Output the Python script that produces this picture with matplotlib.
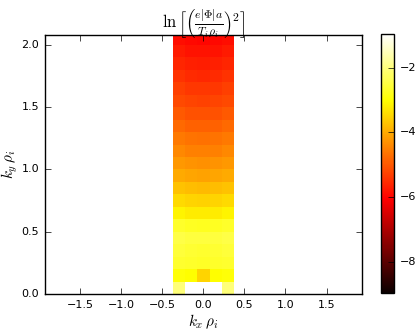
import numpy as np
import matplotlib
matplotlib.use('Agg')
import matplotlib.pyplot as plt

plt.style.use('classic')
plt.rcParams['axes.unicode_minus'] = True

# grid centres
kx = [-0.3, -0.15, 0.0, 0.15, 0.3]
ky = [0.05, 0.15, 0.25, 0.35, 0.45, 0.55, 0.65, 0.75, 0.85, 0.95, 1.05,
      1.15, 1.25, 1.35, 1.45, 1.55, 1.65, 1.75, 1.85, 1.95, 2.05]

# ln[(e|Phi|a / T_i rho_i)^2], rows = ky (bottom->top), cols = kx
lnphi2 = [
    [-2.05, -0.96, -0.96, -0.96, -2.05],
    [-2.95, -3.02, -3.50, -3.02, -2.95],
    [-2.62, -2.68, -2.70, -2.68, -2.62],
    [-2.55, -2.60, -2.62, -2.60, -2.55],
    [-2.46, -2.52, -2.52, -2.52, -2.46],
    [-2.68, -2.74, -2.76, -2.74, -2.68],
    [-3.15, -3.22, -3.24, -3.22, -3.15],
    [-3.45, -3.52, -3.54, -3.52, -3.45],
    [-3.72, -3.80, -3.82, -3.80, -3.72],
    [-4.00, -4.08, -4.10, -4.08, -4.00],
    [-4.22, -4.30, -4.32, -4.30, -4.22],
    [-4.42, -4.50, -4.52, -4.50, -4.42],
    [-4.60, -4.68, -4.70, -4.68, -4.60],
    [-4.80, -4.88, -4.90, -4.88, -4.80],
    [-4.98, -5.06, -5.08, -5.06, -4.98],
    [-5.16, -5.24, -5.26, -5.24, -5.16],
    [-5.30, -5.38, -5.40, -5.38, -5.30],
    [-5.46, -5.54, -5.56, -5.54, -5.46],
    [-5.60, -5.68, -5.70, -5.68, -5.60],
    [-5.74, -5.82, -5.84, -5.82, -5.74],
    [-5.88, -5.96, -5.98, -5.96, -5.88],
]

cb_ticks = [-8, -6, -4, -2]

fig = plt.figure(figsize=(4.15, 3.3), dpi=100, facecolor='white')
ax = fig.add_axes([0.108, 0.109, 0.764, 0.785])
cax = fig.add_axes([0.918, 0.112, 0.031, 0.785])

kx_a = np.array(kx)
ky_a = np.array(ky)
dx = kx_a[1] - kx_a[0]
dy = ky_a[1] - ky_a[0]
xe = np.append(kx_a - dx / 2, kx_a[-1] + dx / 2)
ye = np.append(ky_a - dy / 2, ky_a[-1] + dy / 2)

pc = ax.pcolormesh(xe, ye, np.array(lnphi2), cmap='hot', vmin=-8.97, vmax=-0.96,
                   shading='flat', edgecolors='none')
ax.set_xlim(-1.93, 1.93)
ax.set_ylim(0, 2.08)
ax.set_xticks([-1.5, -1.0, -0.5, 0.0, 0.5, 1.0, 1.5])
ax.set_yticks([0.0, 0.5, 1.0, 1.5, 2.0])
ax.tick_params(labelsize=8, length=4)
ax.set_xlabel(r'$k_x\,\rho_i$', fontsize=11, labelpad=2)
ax.set_ylabel(r'$k_y\,\rho_i$', fontsize=11, labelpad=1)
ax.set_title(r'$\ln\left[\left(\frac{e|\Phi|a}{T_i\rho_i}\right)^2\right]$',
             fontsize=12, y=1.0)

cb = fig.colorbar(pc, cax=cax, ticks=cb_ticks)
cb.ax.tick_params(labelsize=8, length=4)

fig.savefig('out.png', dpi=100, facecolor='white')
